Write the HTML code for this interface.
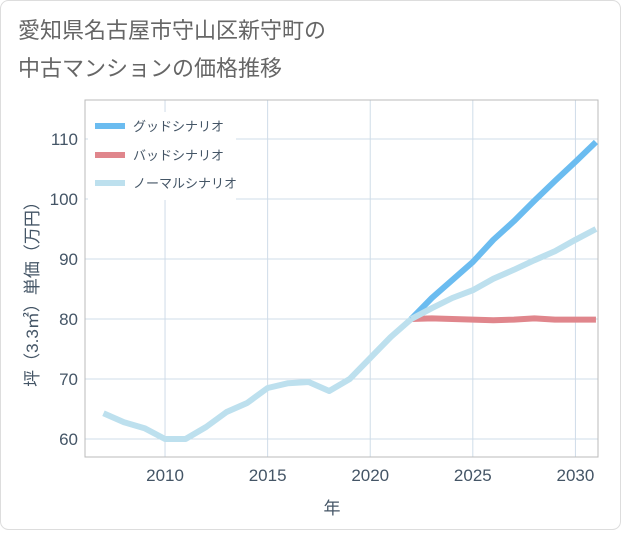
<!DOCTYPE html>
<html><head><meta charset="utf-8"><style>
body{margin:0;background:#fff;font-family:"Liberation Sans","Noto Sans CJK JP",sans-serif;}
</style></head><body>
<svg width="621" height="530" font-family="Liberation Sans, Noto Sans CJK JP, sans-serif">
<rect x="0.5" y="0.5" width="620" height="529" rx="8" fill="#fff" stroke="#ddd"/>
<text x="18" y="38" font-size="22" fill="#666">愛知県名古屋市守山区新守町の</text>
<text x="18" y="76" font-size="22" fill="#666">中古マンションの価格推移</text>
<g id="grid"></g>
<rect x="85" y="100" width="513" height="357" fill="none" stroke="#bbb"/>
<g id="lines"></g>
<g id="ticks"></g>
<text transform="translate(38,290) rotate(-90)" text-anchor="middle" font-size="17" fill="#456">坪（3.3㎡）単価（万円）</text>
<text x="332" y="514" text-anchor="middle" font-size="17" fill="#456">年</text>
<g>
<rect x="88" y="112" width="148" height="88" fill="#fff"/>
<line x1="95" y1="126" x2="125" y2="126" stroke="#6bbcf0" stroke-width="6"/>
<text x="133" y="131" font-size="13" fill="#456">グッドシナリオ</text>
<line x1="95" y1="155" x2="125" y2="155" stroke="#e0868c" stroke-width="6"/>
<text x="133" y="160" font-size="13" fill="#456">バッドシナリオ</text>
<line x1="95" y1="183" x2="125" y2="183" stroke="#bde0ee" stroke-width="6"/>
<text x="133" y="188" font-size="13" fill="#456">ノーマルシナリオ</text>
</g>
</svg>
<script>
const histYears=[2007,2008,2009,2010,2011,2012,2013,2014,2015,2016,2017,2018,2019,2020,2021,2022];
const histValues=[64.3,62.8,61.8,60,60,62,64.5,66,68.5,69.3,69.5,68,70,73.5,77,80];
const futYears=[2022,2023,2024,2025,2026,2027,2028,2029,2030,2031];
const goodValues=[80,83.5,86.5,89.5,93.2,96.3,99.7,103,106.2,109.5];
const badValues=[80,80.1,80,79.9,79.8,79.9,80.1,79.9,79.9,79.9];
const normalValues=[80,81.8,83.5,84.8,86.7,88.2,89.8,91.3,93.2,95];
const xTicks=[2010,2015,2020,2025,2030];
const yTicks=[60,70,80,90,100,110];
const NS="http://www.w3.org/2000/svg";
const X=v=>85+(v-2006.1)/25*513;
const Y=v=>439-(v-60)*6;
const grid=document.getElementById('grid'),lines=document.getElementById('lines'),ticks=document.getElementById('ticks');
function mk(t,a,p){const e=document.createElementNS(NS,t);for(const k in a)e.setAttribute(k,a[k]);p.appendChild(e);return e;}
xTicks.forEach(v=>{const l=mk('line',{x1:X(v),x2:X(v),y1:100,y2:457,stroke:'#cfdce8'},grid);


const t=mk('text',{x:X(v),y:481,'text-anchor':'middle','font-size':17,fill:'#456'},ticks);t.textContent=v;

});
yTicks.forEach(v=>{const l=mk('line',{x1:85,x2:598,y1:Y(v),y2:Y(v),stroke:'#cfdce8'},grid);


const t=mk('text',{x:78,y:Y(v)+6,'text-anchor':'end','font-size':17,fill:'#456'},ticks);t.textContent=v;

});
function line(xs,vs,c,name){const p=mk('polyline',{points:xs.map((x,i)=>X(x)+','+Y(vs[i])).join(' '),fill:'none',stroke:c,'stroke-width':6,'stroke-linejoin':'round'},lines);

}
line(futYears,goodValues,'#6bbcf0','good-scenario-line');
line(futYears,badValues,'#e0868c','bad-scenario-line');
line(futYears,normalValues,'#bde0ee','normal-scenario-line');
line(histYears,histValues,'#bde0ee','historical-line');
</script>
</body></html>
